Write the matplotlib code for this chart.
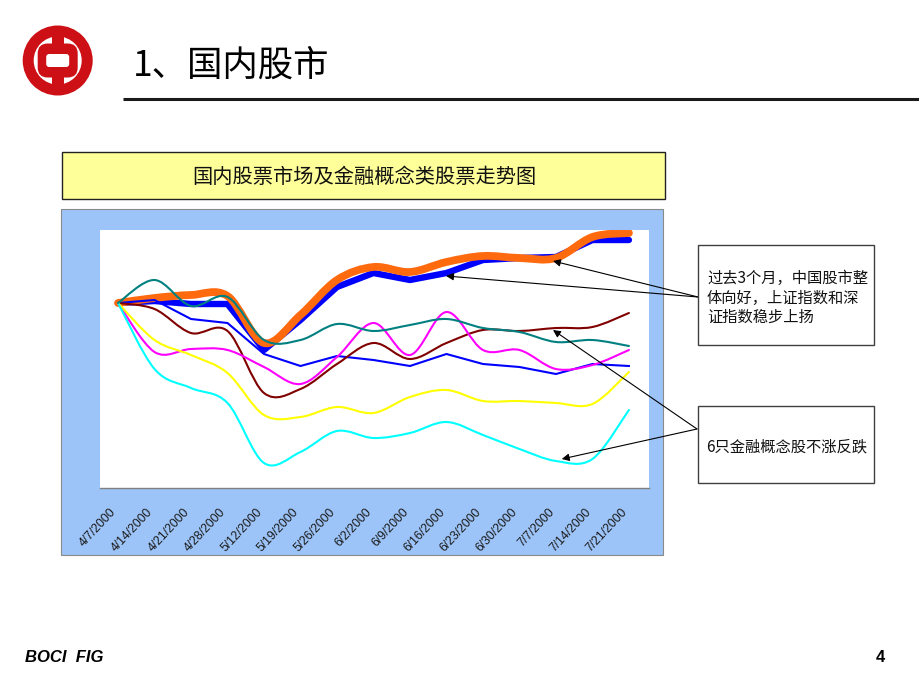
import matplotlib
matplotlib.use('Agg')
import matplotlib.pyplot as plt
import numpy as np
from matplotlib.path import Path
from matplotlib.patches import PathPatch, Rectangle, FancyBboxPatch, Circle
from matplotlib.transforms import ScaledTranslation

plt.rcParams['font.family'] = ['Noto Sans CJK SC', 'DejaVu Sans']

# ---------------- data (index, start = 100) ----------------
dates = ['4/7/2000', '4/14/2000', '4/21/2000', '4/28/2000', '5/12/2000',
         '5/19/2000', '5/26/2000', '6/2/2000', '6/9/2000', '6/16/2000',
         '6/23/2000', '6/30/2000', '7/7/2000', '7/14/2000', '7/21/2000']

shanghai = [100, 101.0, 101.6, 101.4, 92.0, 97.6, 104.6, 107.2, 106.2, 108.2,
            109.4, 109.0, 109.0, 113.2, 114.0]          # orange, thick
shenzhen = [100, 100.4, 99.8, 99.8, 90.6, 96.6, 103.2, 106.0, 104.6, 106.0,
            108.6, 109.0, 109.2, 112.6, 112.6]          # blue, thick
fin_teal = [100, 104.6, 99.4, 101.2, 92.6, 92.6, 95.8, 94.4, 95.6, 96.8,
            95.0, 94.2, 92.2, 92.6, 91.4]
fin_blue = [100, 100.6, 96.8, 96.0, 89.8, 87.4, 89.4, 88.6, 87.4, 89.8,
            87.8, 87.2, 85.8, 87.8, 87.4]
fin_brown = [100, 98.8, 94.0, 94.4, 82.0, 82.8, 87.8, 92.0, 88.8, 92.0,
             94.6, 94.4, 95.0, 95.2, 98.0]
fin_magenta = [100, 90.2, 90.8, 90.6, 87.2, 83.8, 89.2, 96.0, 89.6, 98.2,
               90.6, 90.6, 86.8, 87.6, 90.6]
fin_yellow = [100, 92.6, 89.6, 86.0, 77.6, 77.2, 79.2, 78.0, 81.2, 82.6,
              80.4, 80.4, 80.0, 79.8, 86.2]
fin_cyan = [100, 86.8, 83.0, 80.0, 68.0, 70.2, 74.4, 73.0, 74.0, 76.2,
            73.6, 70.8, 68.4, 68.8, 78.6]

chart_title = '国内股票市场及金融概念类股票走势图'
note1 = '过去3个月，中国股市整\n体向好，上证指数和深\n证指数稳步上扬'
note2 = '6只金融概念股不涨反跌'

# ---------------- figure ----------------
W, H = 920, 690
fig = plt.figure(figsize=(9.2, 6.9), dpi=100)
fig.patch.set_facecolor('white')

bg = fig.add_axes([0, 0, 1, 1], zorder=0)
bg.set_xlim(0, W); bg.set_ylim(H, 0); bg.axis('off')

ax = fig.add_axes([100.5 / W, 1 - 488 / H, 548.5 / W, 258 / H], zorder=1)

fg = fig.add_axes([0, 0, 1, 1], zorder=2)
fg.set_xlim(0, W); fg.set_ylim(H, 0); fg.axis('off')

# ---------------- background decorations ----------------
RED = '#cc1016'
cx, cy = 57.7, 60.5
bg.add_patch(Circle((cx, cy), 35, color=RED, lw=0))
bg.add_patch(Circle((cx, cy), 24, color='white', lw=0))
bg.add_patch(Rectangle((cx - 6, cy - 34), 12, 68, color=RED, lw=0))
bg.add_patch(FancyBboxPatch((cx - 20, cy - 17), 40, 34,
                            boxstyle='round,pad=0,rounding_size=10', color=RED, lw=0))
bg.add_patch(FancyBboxPatch((cx - 11.5, cy - 6.5), 23, 13,
                            boxstyle='round,pad=0,rounding_size=3', color='white', lw=0))

bg.text(133, 66, '1、国内股市', fontsize=25.5, ha='left', va='center', color='black')
bg.plot([123, 920], [99, 99], color='#1a1a1a', lw=2.2, solid_capstyle='butt')

# title box
bg.add_patch(Rectangle((62, 152), 603, 47, facecolor='#ffff99', edgecolor='#222222', lw=1))
bg.text(364.5, 177, chart_title, fontsize=14.6, ha='center', va='center', color='#111111')

# blue chart panel
bg.add_patch(Rectangle((61, 209), 602, 346, facecolor='#9dc4f8', edgecolor='#8a8a8a', lw=0.8))

# footer
bg.text(25, 657, 'BOCI  FIG', fontsize=12, fontweight='bold', fontstyle='italic',
        family=['Liberation Sans', 'DejaVu Sans'], ha='left', va='center')
bg.text(876, 657, '4', fontsize=12, fontweight='bold',
        family=['Liberation Sans', 'DejaVu Sans'], ha='left', va='center')

# ---------------- chart ----------------
x = np.arange(len(dates))


def smooth_path(xs, ys):
    pts = np.column_stack([xs, ys]).astype(float)
    n = len(pts)
    verts = [pts[0]]
    codes = [Path.MOVETO]
    for i in range(n - 1):
        p0 = pts[i - 1] if i > 0 else pts[i]
        p1 = pts[i]
        p2 = pts[i + 1]
        p3 = pts[i + 2] if i + 2 < n else pts[i + 1]
        verts += [p1 + (p2 - p0) / 6.0, p2 - (p3 - p1) / 6.0, p2]
        codes += [Path.CURVE4] * 3
    return Path(verts, codes)


def smooth_line(ys, color, lw, z):
    ax.add_patch(PathPatch(smooth_path(x, ys), fill=False, edgecolor=color, lw=lw,
                           capstyle='round', joinstyle='round', zorder=z))


ax.plot(x, shenzhen, color='#0000ff', lw=4.6, solid_joinstyle='round',
        solid_capstyle='round', zorder=2)
smooth_line(shanghai, '#ff6a0e', 5.6, 3)
ax.plot(x, fin_blue, color='#0000ff', lw=1.5, zorder=4)
smooth_line(fin_brown, '#800000', 1.5, 4)
smooth_line(fin_magenta, '#ff00ff', 1.5, 4)
smooth_line(fin_yellow, '#ffff00', 1.5, 4)
smooth_line(fin_cyan, '#00ffff', 1.5, 4)
smooth_line(fin_teal, '#008080', 1.5, 5)

ax.set_xlim(-0.48, 14.55)
ax.set_ylim(63.0, 114.6)
ax.set_facecolor('white')
for s in ['top', 'left', 'right']:
    ax.spines[s].set_visible(False)
ax.spines['bottom'].set_color('#808080')
ax.spines['bottom'].set_linewidth(1.0)
ax.set_yticks([])
ax.set_xticks(x)
ax.set_xticklabels(dates, rotation=47, ha='right', va='top', rotation_mode='anchor',
                   fontsize=8.8, family=['Liberation Sans', 'DejaVu Sans'], color='#1a1a1a')
ax.tick_params(axis='x', length=0, pad=13)
shift = ScaledTranslation(-8 / 100, 0, fig.dpi_scale_trans)
for lab in ax.get_xticklabels():
    lab.set_transform(lab.get_transform() + shift)

# ---------------- annotation boxes and arrows ----------------
fg.add_patch(Rectangle((698, 245), 176, 100, facecolor='white', edgecolor='#404040', lw=1))
fg.add_patch(Rectangle((698, 406), 176, 77, facecolor='white', edgecolor='#404040', lw=1))
fg.text(707, 298, note1, fontsize=11, ha='left', va='center', linespacing=1.2, color='#111111')
fg.text(706, 447, note2, fontsize=11, ha='left', va='center', color='#111111')

arrow_kw = dict(arrowstyle='-|>', color='black', lw=0.8, mutation_scale=11,
                shrinkA=0, shrinkB=0)
for target, origin in [((11.92, 108.4), (698, 297)),
                       ((8.99, 105.4), (698, 297)),
                       ((11.92, 94.6), (697, 429)),
                       ((12.16, 68.8), (697, 429))]:
    ax.annotate('', xy=target, xycoords='data', xytext=origin, textcoords=fg.transData,
                arrowprops=arrow_kw, annotation_clip=False, zorder=6)

fig.savefig('out.png', dpi=100, facecolor='white')
